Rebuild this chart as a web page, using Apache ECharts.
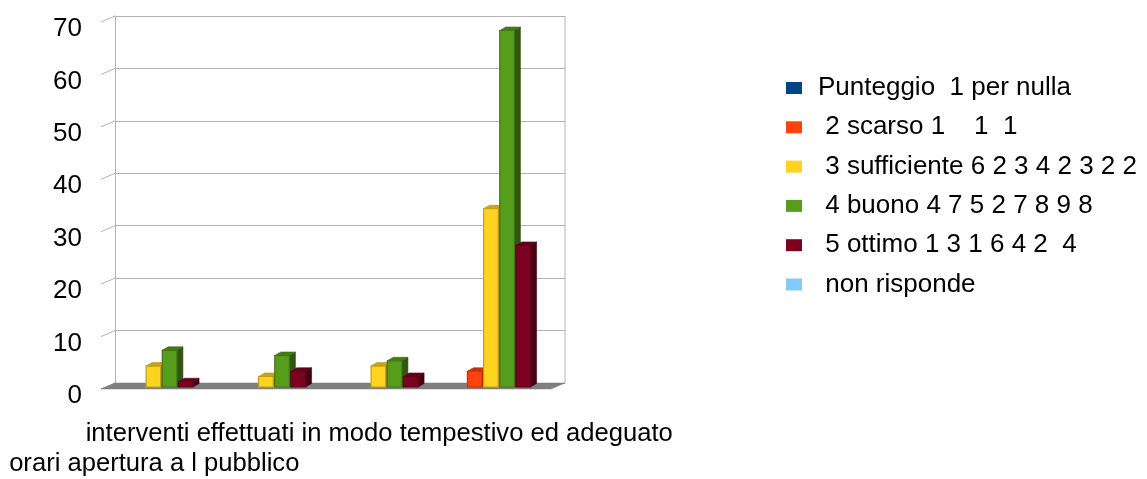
<!DOCTYPE html>
<html>
<head>
<meta charset="utf-8">
<script src="https://cdn.jsdelivr.net/npm/echarts@6/dist/echarts.min.js"></script>
<style>
html,body{margin:0;padding:0;background:#fff;}
#chart{width:1147px;height:479px;}
</style>
</head>
<body>
<div id="chart"></div>
<script>
// ---- data ----
var categories = ['orari apertura a l pubblico', '', 'interventi effettuati in modo tempestivo ed adeguato', ''];
var seriesNames = ['Punteggio  1 per nulla', ' 2 scarso 1    1  1', ' 3 sufficiente 6 2 3 4 2 3 2 2', ' 4 buono 4 7 5 2 7 8 9 8', ' 5 ottimo 1 3 1 6 4 2  4', ' non risponde'];
var punteggio1 = [0, 0, 0, 0];
var scarso2 = [0, 0, 0, 3];
var sufficiente3 = [4, 2, 4, 34];
var buono4 = [7, 6, 5, 68];
var ottimo5 = [1, 3, 2, 27];
var nonRisponde = [0, 0, 0, 0];
var yTicks = [0, 10, 20, 30, 40, 50, 60, 70];

var seriesValues = [punteggio1, scarso2, sufficiente3, buono4, ottimo5, nonRisponde];
var colors = ['#004586', '#ff420e', '#ffd320', '#579d1c', '#7e0021', '#83caff'];

// ---- 3D look parameters ----
var CAT_GAP = 0.138;
var FRONT_DX = -9, FRONT_DY = 4;
var DEPTH_DX = 6, DEPTH_DY = -3.5;

function shade(hex, f) {
  var n = parseInt(hex.slice(1), 16);
  var r = (n >> 16) & 255, g = (n >> 8) & 255, b = n & 255;
  r = Math.round(r * f); g = Math.round(g * f); b = Math.round(b * f);
  return 'rgb(' + r + ',' + g + ',' + b + ')';
}

function makeRender(sIdx, color) {
  return function (params, api) {
    var ci = api.value(0), v = api.value(1);
    if (!v) return;
    var cw = api.size([1, 0])[0];
    var base = api.coord([ci, 0]);
    var top = api.coord([ci, v]);
    var groupW = cw * (1 - CAT_GAP);
    var slot = groupW / seriesNames.length;
    var w = slot - 1.5;
    var x0 = base[0] - groupW / 2 + sIdx * slot + FRONT_DX;
    var yt = top[1] + FRONT_DY, yb = base[1] + FRONT_DY;
    var edge = shade(color, 0.75);
    return {
      type: 'group',
      children: [
        { type: 'polygon', shape: { points: [[x0 + w, yt], [x0 + w + DEPTH_DX, yt + DEPTH_DY], [x0 + w + DEPTH_DX, yb + DEPTH_DY], [x0 + w, yb]] },
          style: { fill: shade(color, 0.55), stroke: shade(color, 0.5), lineWidth: 0.6 } },
        { type: 'polygon', shape: { points: [[x0, yt], [x0 + w, yt], [x0 + w + DEPTH_DX, yt + DEPTH_DY], [x0 + DEPTH_DX, yt + DEPTH_DY]] },
          style: { fill: shade(color, 0.78), stroke: shade(color, 0.7), lineWidth: 0.6 } },
        { type: 'rect', shape: { x: x0, y: yt, width: w, height: yb - yt },
          style: { fill: color, stroke: edge, lineWidth: 1.2 } }
      ]
    };
  };
}

var series = [];
// decoration: floor, wall edges, axis ticks
series.push({
  type: 'custom',
  name: '__walls',
  silent: true,
  z: 1,
  data: [[0, 0]],
  renderItem: function (params, api) {
    var cs = params.coordSys;
    var left = cs.x, right = cs.x + cs.width, bottom = cs.y + cs.height, topY = cs.y;
    var children = [];
    children.push({ type: 'line', shape: { x1: right, y1: topY, x2: right, y2: bottom }, style: { stroke: '#b3b3b3', lineWidth: 1 } });
    for (var i = 0; i < yTicks.length; i++) {
      var p = api.coord([0, yTicks[i]]);
      children.push({ type: 'line', shape: { x1: left, y1: p[1], x2: left - 14, y2: p[1] + 6 }, style: { stroke: '#b3b3b3', lineWidth: 1 } });
    }
    children.push({ type: 'polygon', shape: { points: [[left, bottom], [right, bottom], [right - 14, bottom + 6], [left - 14, bottom + 6]] },
      style: { fill: '#808080', stroke: '#7a7a7a', lineWidth: 0.5 } });
    return { type: 'group', children: children };
  }
});
for (var s = 0; s < seriesNames.length; s++) {
  var d = [];
  for (var i = 0; i < categories.length; i++) d.push([i, seriesValues[s][i]]);
  series.push({
    type: 'custom',
    name: seriesNames[s],
    z: 3,
    itemStyle: { color: colors[s] },
    data: d,
    renderItem: makeRender(s, colors[s])
  });
}

var chart = echarts.init(document.getElementById('chart'), null, { renderer: 'canvas' });
chart.setOption({
  animation: false,
  backgroundColor: '#ffffff',
  textStyle: { fontFamily: 'Liberation Sans, Arial, sans-serif' },
  grid: { left: 115, right: 582, top: 16, bottom: 90, containLabel: false },
  legend: {
    data: seriesNames,
    orient: 'vertical',
    left: 786,
    top: 75,
    padding: 0,
    itemWidth: 16,
    itemHeight: 12,
    itemGap: 13.3,
    icon: 'rect',
    textStyle: { fontSize: 26, lineHeight: 25, color: '#000', padding: [0, 0, 0, 11], fontFamily: 'Liberation Sans, Arial, sans-serif' }
  },
  xAxis: {
    type: 'category',
    data: categories,
    axisLine: { show: false },
    axisTick: { show: false },
    splitLine: { show: false },
    axisLabel: {
      interval: 0,
      margin: 36,
      color: '#000',
      fontSize: 25.6,
      lineHeight: 30,
      padding: [0, 34, 0, 0],
      verticalAlign: 'top',
      formatter: function (val, idx) { return idx === 0 ? '\n' + val : val; }
    }
  },
  yAxis: {
    type: 'value',
    min: 0,
    max: 70,
    interval: 10,
    axisLine: { show: true, lineStyle: { color: '#b3b3b3' } },
    axisTick: { show: false },
    splitLine: { show: true, lineStyle: { color: '#b3b3b3', width: 1 } },
    axisLabel: { color: '#000', fontSize: 26, margin: 33, verticalAlign: 'top', lineHeight: 26 }
  },
  series: series
});
</script>
</body>
</html>
